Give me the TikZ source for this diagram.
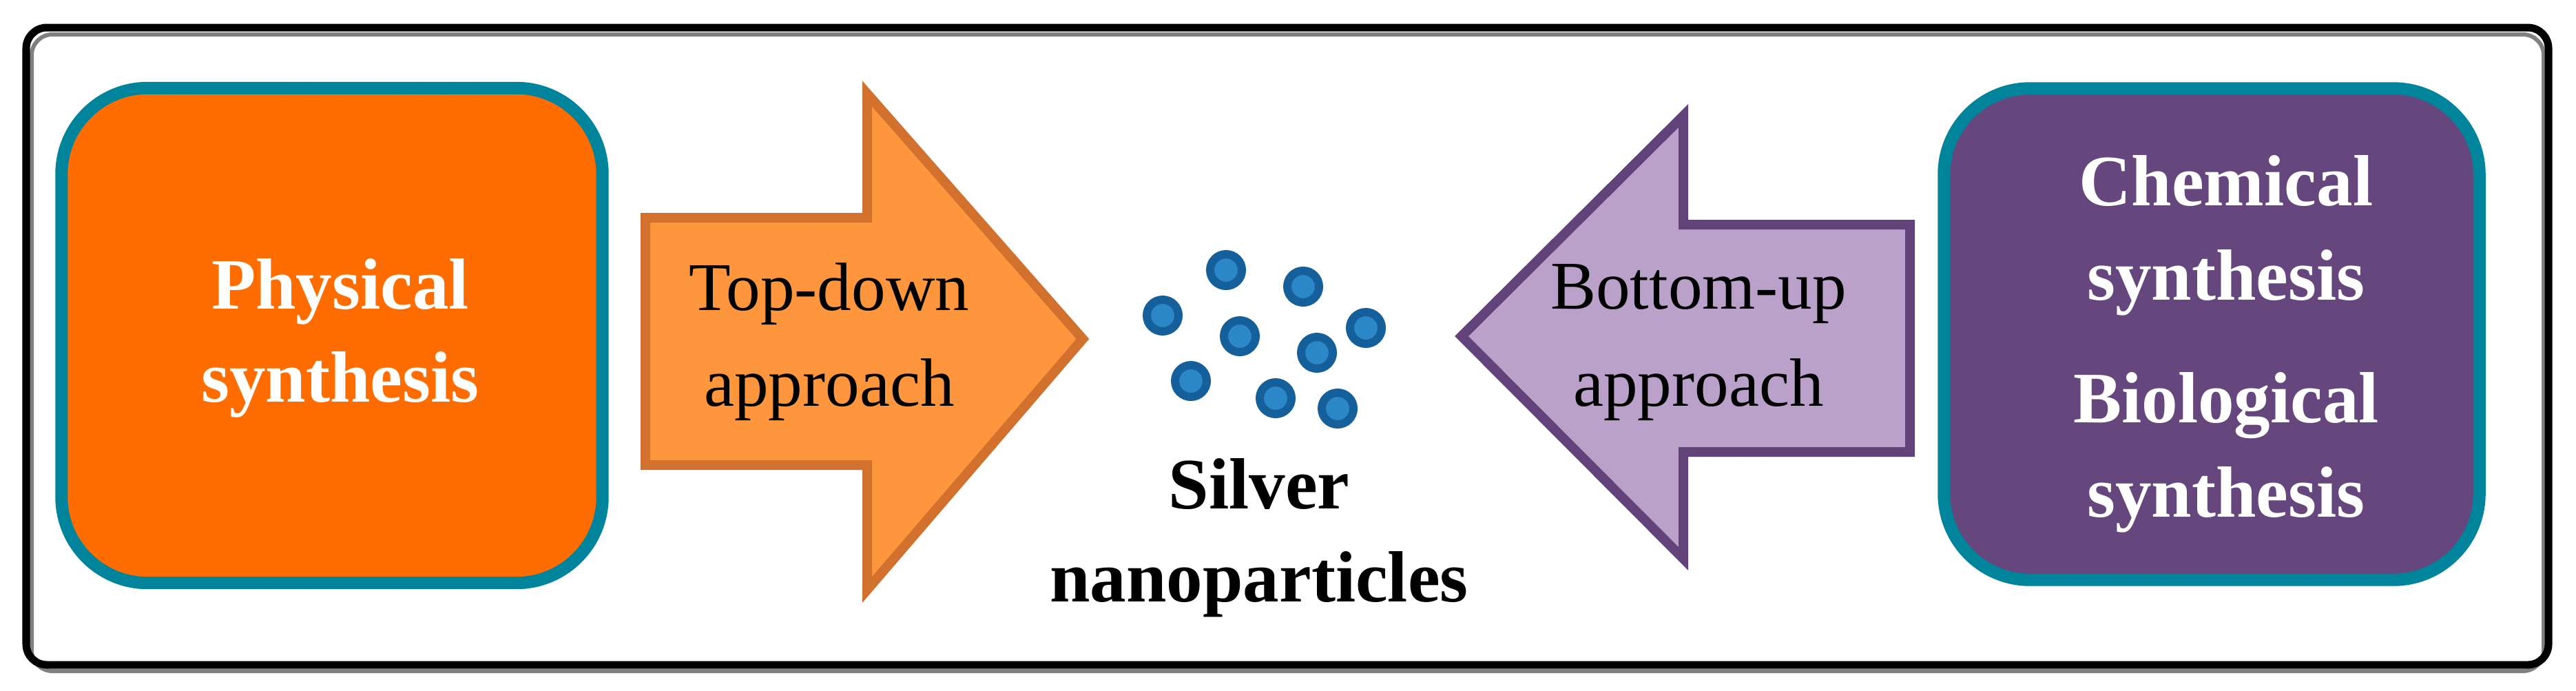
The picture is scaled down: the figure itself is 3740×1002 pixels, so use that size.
\documentclass[tikz,border=0pt]{standalone}
\usepackage{fontspec}
\setmainfont{Liberation Serif}
\usepackage{xcolor}
\usepackage{tikz}
\usetikzlibrary{positioning}

\definecolor{physorange}{RGB}{255,109,0}
\definecolor{boxteal}{RGB}{0,132,155}
\definecolor{chempurple}{RGB}{101,70,125}
\definecolor{topfill}{RGB}{253,150,60}
\definecolor{topline}{RGB}{210,113,46}
\definecolor{botfill}{RGB}{186,161,201}
\definecolor{botline}{RGB}{97,67,122}
\definecolor{npcore}{RGB}{43,135,200}
\definecolor{npring}{RGB}{21,96,155}

\tikzset{
  synbox/.style={rectangle,rounded corners=1.25cm,draw=boxteal,line width=0.18cm,inner sep=0pt},
  lbl/.style={text width=7cm,align=center,anchor=base,inner sep=0pt},
  nanodot/.style={circle,fill=npcore,draw=npring,line width=0.12cm,inner sep=0pt,minimum size=0.46cm}
}

\begin{document}
\begin{tikzpicture}[x=0.01cm,y=-0.01cm]
       \useasboundingbox (0,0) rectangle (3740,1002);

       % frame
       \draw[gray,line width=0.06cm,rounded corners=0.3cm] (46,50) rectangle (3693,974);
       \draw[black,line width=0.11cm,rounded corners=0.3cm] (38,40) rectangle (3700,965);

       % side boxes
       \node[synbox,fill=physorange,minimum width=7.85cm,minimum height=7.18cm] (phys) at (482,487) {};
       \node[synbox,fill=chempurple,minimum width=7.77cm,minimum height=7.13cm] (chembio) at (3211,485) {};

       \node[lbl,white,font=\bfseries\fontsize{29.9}{38.4}\selectfont] (physlbl) at (494,448) {Physical\\synthesis};
       \node[lbl,white,font=\bfseries\fontsize{29.9}{39}\selectfont] (chembiolbl) at (3232,298) {Chemical\\synthesis\\[0.41cm]Biological\\synthesis};

       % arrows
       \draw[draw=topline,fill=topfill,line width=0.14cm] (937,316) -- (1259,316) -- (1259,136) -- (1572,492) -- (1259,856) -- (1259,675) -- (937,675) -- cycle;
       \draw[draw=botline,fill=botfill,line width=0.14cm] (2773,326) -- (2444,326) -- (2444,168) -- (2122,488) -- (2444,811) -- (2444,656) -- (2773,656) -- cycle;

       \node[lbl,black,font=\fontsize{28.2}{39.6}\selectfont] (topdown) at (1204,450) {Top-down\\approach};
       \node[lbl,black,font=\fontsize{28.2}{40.2}\selectfont] (bottomup) at (2466,448) {Bottom-up\\approach};

       % nanoparticles
       \node[nanodot] (np1) at (1780,392) {};
       \node[nanodot] (np2) at (1892,416) {};
       \node[nanodot] (np3) at (1688,458) {};
       \node[nanodot] (np4) at (1800,488) {};
       \node[nanodot] (np5) at (1983,476) {};
       \node[nanodot] (np6) at (1912,512) {};
       \node[nanodot] (np7) at (1729,553) {};
       \node[nanodot] (np8) at (1852,578) {};
       \node[nanodot] (np9) at (1942,593) {};

       \node[lbl,black,font=\bfseries\fontsize{29.9}{38.4}\selectfont] (silver) at (1828,738) {Silver\\nanoparticles};

\end{tikzpicture}
\end{document}
